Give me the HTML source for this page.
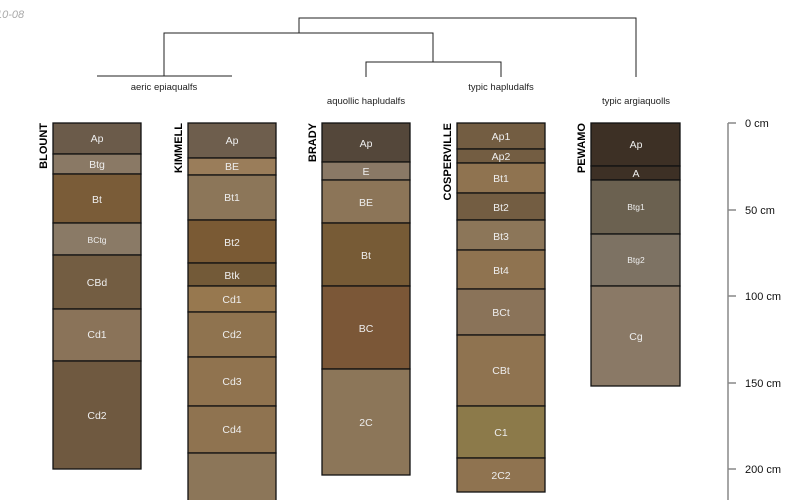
<!DOCTYPE html>
<html><head><meta charset="utf-8"><style>
html,body{margin:0;padding:0;background:#fff;width:800px;height:500px;overflow:hidden}
svg{display:block;font-family:"Liberation Sans",sans-serif}
.h rect{stroke:#111;stroke-width:1.3}
.h text{fill:#eee;font-size:10.5px;text-anchor:middle}
.d{stroke:#222;stroke-width:1;fill:none}
.lab{font-size:9.5px;fill:#222;text-anchor:middle}
.nm{font-size:11px;font-weight:bold;fill:#000}
.ax{font-size:11px;fill:#111}
</style></head><body>
<svg width="800" height="500" viewBox="0 0 800 500">
<text x="-4" y="18" font-size="11" font-style="italic" fill="#aaa">10-08</text>
<path class="d" d="M299,33 V18 H636 V77"/>
<path class="d" d="M164,76 V33 H433 V62"/>
<path class="d" d="M97,76 H232"/>
<path class="d" d="M366,77 V62 H501 V77"/>
<text class="lab" x="164" y="90">aeric epiaqualfs</text>
<text class="lab" x="366" y="104">aquollic hapludalfs</text>
<text class="lab" x="501" y="90">typic hapludalfs</text>
<text class="lab" x="636" y="104">typic argiaquolls</text>
<text class="nm" transform="translate(47,123) rotate(-90)" text-anchor="end">BLOUNT</text>
<text class="nm" transform="translate(182,123) rotate(-90)" text-anchor="end">KIMMELL</text>
<text class="nm" transform="translate(316,123) rotate(-90)" text-anchor="end">BRADY</text>
<text class="nm" transform="translate(451,123) rotate(-90)" text-anchor="end">COSPERVILLE</text>
<text class="nm" transform="translate(585,123) rotate(-90)" text-anchor="end">PEWAMO</text>
<g class="h">
<rect x="53" y="123" width="88" height="31" fill="#6b5b4a"/><text x="97" y="142">Ap</text>
<rect x="53" y="154" width="88" height="20" fill="#8a7965"/><text x="97" y="168">Btg</text>
<rect x="53" y="174" width="88" height="49" fill="#7a5c38"/><text x="97" y="203">Bt</text>
<rect x="53" y="223" width="88" height="32" fill="#8a7a66"/><text x="97" y="243" style="font-size:8.5px">BCtg</text>
<rect x="53" y="255" width="88" height="54" fill="#735d42"/><text x="97" y="286">CBd</text>
<rect x="53" y="309" width="88" height="52" fill="#8a7359"/><text x="97" y="338">Cd1</text>
<rect x="53" y="361" width="88" height="108" fill="#6f5940"/><text x="97" y="419">Cd2</text>
</g>
<g class="h">
<rect x="188" y="123" width="88" height="35" fill="#6e5e4d"/><text x="232" y="144">Ap</text>
<rect x="188" y="158" width="88" height="17" fill="#9a7d5a"/><text x="232" y="170">BE</text>
<rect x="188" y="175" width="88" height="45" fill="#8c7659"/><text x="232" y="201">Bt1</text>
<rect x="188" y="220" width="88" height="43" fill="#7a5a34"/><text x="232" y="246">Bt2</text>
<rect x="188" y="263" width="88" height="23" fill="#735a38"/><text x="232" y="279">Btk</text>
<rect x="188" y="286" width="88" height="26" fill="#97784f"/><text x="232" y="303">Cd1</text>
<rect x="188" y="312" width="88" height="45" fill="#8f734f"/><text x="232" y="338">Cd2</text>
<rect x="188" y="357" width="88" height="49" fill="#90734f"/><text x="232" y="385">Cd3</text>
<rect x="188" y="406" width="88" height="47" fill="#8f7350"/><text x="232" y="433">Cd4</text>
<rect x="188" y="453" width="88" height="60" fill="#8c7659"/>
</g>
<g class="h">
<rect x="322" y="123" width="88" height="39" fill="#54473a"/><text x="366" y="147">Ap</text>
<rect x="322" y="162" width="88" height="18" fill="#8a7966"/><text x="366" y="175">E</text>
<rect x="322" y="180" width="88" height="43" fill="#8c7558"/><text x="366" y="206">BE</text>
<rect x="322" y="223" width="88" height="63" fill="#775b36"/><text x="366" y="259">Bt</text>
<rect x="322" y="286" width="88" height="83" fill="#7b5737"/><text x="366" y="332">BC</text>
<rect x="322" y="369" width="88" height="106" fill="#8c7659"/><text x="366" y="426">2C</text>
</g>
<g class="h">
<rect x="457" y="123" width="88" height="26" fill="#735d42"/><text x="501" y="140">Ap1</text>
<rect x="457" y="149" width="88" height="14" fill="#735d42"/><text x="501" y="160">Ap2</text>
<rect x="457" y="163" width="88" height="30" fill="#8f7350"/><text x="501" y="182">Bt1</text>
<rect x="457" y="193" width="88" height="27" fill="#735d42"/><text x="501" y="211">Bt2</text>
<rect x="457" y="220" width="88" height="30" fill="#8c7659"/><text x="501" y="240">Bt3</text>
<rect x="457" y="250" width="88" height="39" fill="#8f7350"/><text x="501" y="274">Bt4</text>
<rect x="457" y="289" width="88" height="46" fill="#8a7359"/><text x="501" y="316">BCt</text>
<rect x="457" y="335" width="88" height="71" fill="#8f7350"/><text x="501" y="374">CBt</text>
<rect x="457" y="406" width="88" height="52" fill="#8c7a4a"/><text x="501" y="436">C1</text>
<rect x="457" y="458" width="88" height="34" fill="#8f7350"/><text x="501" y="479">2C2</text>
</g>
<g class="h">
<rect x="591" y="123" width="89" height="43" fill="#3d3025"/><text x="636" y="148">Ap</text>
<rect x="591" y="166" width="89" height="14" fill="#3d3025"/><text x="636" y="177">A</text>
<rect x="591" y="180" width="89" height="54" fill="#6b6150"/><text x="636" y="210" style="font-size:8.5px">Btg1</text>
<rect x="591" y="234" width="89" height="52" fill="#7d7263"/><text x="636" y="263" style="font-size:8.5px">Btg2</text>
<rect x="591" y="286" width="89" height="100" fill="#8a7966"/><text x="636" y="340">Cg</text>
</g>
<path d="M728,123 V500 M728,123 H736 M728,210 H736 M728,296 H736 M728,383 H736 M728,469 H736" stroke="#888" stroke-width="1.5" fill="none"/>
<text class="ax" x="745" y="127">0 cm</text>
<text class="ax" x="745" y="214">50 cm</text>
<text class="ax" x="745" y="300">100 cm</text>
<text class="ax" x="745" y="387">150 cm</text>
<text class="ax" x="745" y="473">200 cm</text>
</svg>
</body></html>
